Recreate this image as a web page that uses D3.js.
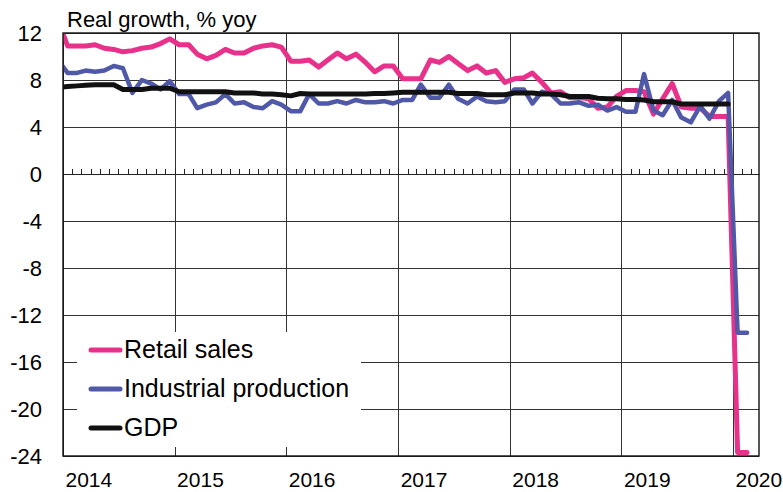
<!DOCTYPE html>
<html>
<head>
<meta charset="utf-8">
<script src="https://cdn.jsdelivr.net/npm/d3@7"></script>
<style>
  body { margin: 0; background: #fff; }
  svg { display: block; font-family: "Liberation Sans", Arial, Helvetica, sans-serif; }
</style>
</head>
<body>
<svg id="chart" width="783" height="492"></svg>
<script>
// Monthly observations, Dec 2013 .. Feb 2020.
// Jan and Feb both carry the combined Jan-Feb release.
const months = d3.timeMonth.range(new Date(2013, 11, 1), new Date(2020, 2, 1));

const retailSales = [
  13.0,
  10.9, 10.9, 10.9, 11.0, 10.7, 10.6, 10.4, 10.5, 10.7, 10.8, 11.1, 11.5, // 2014
  11.0, 11.0, 10.2, 9.8, 10.1, 10.6, 10.3, 10.3, 10.7, 10.9, 11.0, 10.8,  // 2015
  9.6, 9.6, 9.7, 9.1, 9.7, 10.3, 9.8, 10.2, 9.5, 8.7, 9.2, 9.2,           // 2016
  8.1, 8.1, 8.1, 9.7, 9.5, 10.0, 9.4, 8.8, 9.2, 8.6, 8.8, 7.8,            // 2017
  8.1, 8.2, 8.6, 7.8, 6.9, 7.0, 6.5, 6.5, 6.4, 5.6, 5.7, 6.6,             // 2018
  7.1, 7.1, 7.0, 5.1, 6.4, 7.7, 5.7, 5.6, 5.6, 4.9, 4.9, 4.9,             // 2019
  -23.7, -23.7                                                             // 2020
];

const industrialProduction = [
  9.7,
  8.6, 8.6, 8.8, 8.7, 8.8, 9.2, 9.0, 6.9, 8.0, 7.7, 7.2, 7.9,
  6.8, 6.8, 5.6, 5.9, 6.1, 6.8, 6.0, 6.1, 5.7, 5.6, 6.2, 5.9,
  5.35, 5.35, 6.8, 6.0, 6.0, 6.2, 6.0, 6.3, 6.1, 6.1, 6.2, 6.0,
  6.3, 6.3, 7.6, 6.5, 6.5, 7.6, 6.4, 6.0, 6.6, 6.2, 6.1, 6.2,
  7.2, 7.2, 6.0, 7.0, 6.8, 6.0, 6.0, 6.1, 5.8, 5.9, 5.4, 5.7,
  5.3, 5.3, 8.5, 5.4, 5.0, 6.3, 4.8, 4.4, 5.8, 4.7, 6.2, 6.9,
  -13.5, -13.5
];

// quarterly GDP spread over the months, runs to Dec 2019
const gdp = [
  7.35,
  7.45, 7.5, 7.55, 7.6, 7.6, 7.6, 7.2, 7.2, 7.2, 7.3, 7.3, 7.3,
  7.0, 7.0, 7.0, 7.0, 7.0, 7.0, 6.9, 6.9, 6.9, 6.8, 6.8, 6.75,
  6.65, 6.85, 6.8, 6.8, 6.8, 6.8, 6.8, 6.8, 6.8, 6.85, 6.85, 6.9,
  6.95, 6.95, 6.95, 6.95, 6.95, 6.95, 6.85, 6.85, 6.85, 6.75, 6.75, 6.75,
  6.9, 6.9, 6.9, 6.8, 6.8, 6.75, 6.6, 6.6, 6.6, 6.45, 6.4, 6.4,
  6.35, 6.35, 6.3, 6.15, 6.15, 6.15, 5.95, 5.95, 5.95, 5.95, 5.95, 5.95
];

const yTicks = [-24, -20, -16, -12, -8, -4, 0, 4, 8, 12];
const yearTicks = [2014, 2015, 2016, 2017, 2018, 2019, 2020];

const series = [
  { name: "Retail sales", values: retailSales, color: "#e8318a", width: 5 },
  { name: "Industrial production", values: industrialProduction, color: "#5058a8", width: 4.5 },
  { name: "GDP", values: gdp, color: "#111", width: 5 },
];

const plot = { left: 63, right: 759, top: 33, bottom: 456 };

const svg = d3.select("#chart");

const x = d3.scaleTime()
  .domain([new Date(2014, 0, 1), new Date(2020, 2, 26)])
  .range([plot.left, plot.right]);

const y = d3.scaleLinear()
  .domain([-24, 12])
  .range([plot.bottom, plot.top]);

const midMonth = d => d3.timeDay.offset(d, 15);

svg.append("clipPath").attr("id", "plot-clip")
  .append("rect")
  .attr("x", plot.left).attr("y", plot.top)
  .attr("width", plot.right - plot.left).attr("height", plot.bottom - plot.top);

// Horizontal grid + y labels

const yAxis = svg.append("g")
  .attr("transform", `translate(${plot.left},0)`)
  .call(d3.axisLeft(y)
    .tickValues(yTicks)
    .tickFormat(d => String(d))
    .tickSizeInner(-(plot.right - plot.left))
    .tickSizeOuter(0)
    .tickPadding(21));

yAxis.select(".domain").remove();
yAxis.selectAll("line").attr("stroke", "#333").attr("shape-rendering", "crispEdges");
yAxis.selectAll("text").attr("font-size", 22).attr("fill", "#000");

// Vertical grid at year starts + year labels

const xAxis = svg.append("g")
  .attr("transform", `translate(0,${plot.bottom})`)
  .call(d3.axisBottom(x)
    .tickValues(yearTicks.map(yr => new Date(yr, 0, 1)))
    .tickFormat(d3.timeFormat("%Y"))
    .tickSizeInner(-(plot.bottom - plot.top))
    .tickSizeOuter(0)
    .tickPadding(16));

xAxis.select(".domain").remove();
xAxis.selectAll("line").attr("stroke", "#333").attr("shape-rendering", "crispEdges");
xAxis.selectAll("text")
  .attr("font-size", 21)
  .attr("fill", "#000")
  .attr("text-anchor", "start")
  .attr("dx", 2);

// Zero line with monthly ticks

const zeroAxis = svg.append("g")
  .attr("transform", `translate(0,${y(0)})`)
  .call(d3.axisTop(x)
    .ticks(d3.timeMonth.every(1))
    .tickFormat("")
    .tickSizeInner(5)
    .tickSizeOuter(0));

zeroAxis.select(".domain").attr("stroke", "#222").attr("stroke-width", 1.2);
zeroAxis.selectAll("line").attr("stroke", "#222").attr("shape-rendering", "crispEdges");

// Lines

const line = d3.line()
  .x(d => x(midMonth(d.date)))
  .y(d => y(d.value));

const lines = svg.append("g").attr("clip-path", "url(#plot-clip)");

series.forEach(s => {
  const pts = s.values.map((v, i) => ({ date: months[i], value: v }));
  lines.append("path")
    .datum(pts)
    .attr("fill", "none")
    .attr("stroke", s.color)
    .attr("stroke-width", s.width)
    .attr("stroke-linejoin", "round")
    .attr("stroke-linecap", "round")
    .attr("d", line);
});

// Frame
svg.append("rect")
  .attr("x", plot.left).attr("y", plot.top)
  .attr("width", plot.right - plot.left).attr("height", plot.bottom - plot.top)
  .attr("fill", "none")
  .attr("stroke", "#111")
  .attr("stroke-width", 1.4);

// Title
svg.append("text")
  .attr("x", 67).attr("y", 27)
  .attr("font-size", 22)
  .text("Real growth, % yoy");

// Legend
const legend = svg.append("g");

legend.append("rect")
  .attr("x", 77).attr("y", 332)
  .attr("width", 284).attr("height", 115)
  .attr("fill", "#fff");

const legendRows = legend.selectAll("g.row")
  .data(series)
  .join("g")
  .attr("class", "row")
  .attr("transform", (d, i) => `translate(0,${350 + i * 39})`);

legendRows.append("line")
  .attr("x1", 91).attr("x2", 120)
  .attr("stroke", d => d.color)
  .attr("stroke-width", 5)
  .attr("stroke-linecap", "round");

legendRows.append("text")
  .attr("x", 124).attr("y", 8)
  .attr("font-size", 25)
  .text(d => d.name);
</script>
</body>
</html>
